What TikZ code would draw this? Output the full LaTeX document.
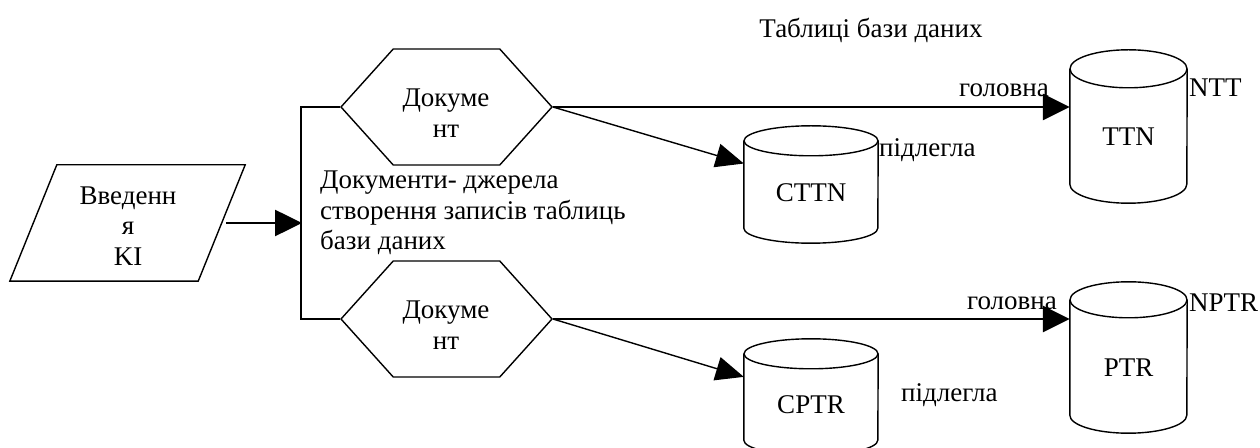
\documentclass[tikz,border=0pt]{standalone}
\usepackage{fontspec}
\setmainfont{Liberation Serif}
\usetikzlibrary{arrows.meta,shapes.symbols,calc}

% outline of a database cylinder drawn around a body node
\newcommand\dbcyl[3]{%
  \draw[line width=1.4pt] (#1.north) ellipse[x radius=#2, y radius=#3];
  \draw[line width=1.4pt] (#1.north west) -- (#1.south west)
    arc[start angle=180, end angle=360, x radius=#2, y radius=#3] -- (#1.north east);
}

\tikzset{
  txt/.style={inner sep=0pt, font=\fontsize{27}{30.5}\selectfont},
  thinarrow/.style={line width=1.4pt, -{Triangle[length=28pt,width=24pt]}},
  thickarrow/.style={line width=2.6pt, -{Triangle[length=27pt,width=26pt]}},
  docshape/.style={draw, line width=1.4pt, signal, signal to=east and west,
    signal pointer angle=96, minimum width=211pt, minimum height=116pt, inner sep=0pt},
  dbbody/.style={draw=none, inner sep=0pt},
  inputbox/.style={draw=none, minimum width=235pt, minimum height=116pt, inner sep=0pt}
}

\begin{document}
\begin{tikzpicture}[x=1pt, y=1pt]
  \path[use as bounding box, clip] (0,0) rectangle (1260,447);

  % input block (parallelogram)
  \node[inputbox] (vvod) at (127.5,224) {};
  \draw[line width=1.4pt] ($(vvod.north west)+(47,0)$) -- (vvod.north east)
    -- ($(vvod.south east)+(-47,0)$) -- (vvod.south west) -- cycle;
  \node[txt, align=center] (vvodtext) at (128,221) {Введенн\\я\\KI};
  \coordinate (vvodout) at ($(vvod.east)+(-19,0)$);

  % two source documents
  \node[docshape] (doc1) at (446.5,340) {};
  \node[txt, align=center] (doc1text) at (446,334) {Докуме\\нт};
  \node[docshape] (doc2) at (446.5,128) {};
  \node[txt, align=center] (doc2text) at (446,122) {Докуме\\нт};

  % bracket joining the documents
  \coordinate (brk) at (302,224);
  \draw[line width=1.4pt] (doc1.west) -- ++(-39,0) |- (doc2.west);
  \draw[thickarrow] (vvodout) -- (brk);

  \node[txt, anchor=west, align=left] (srcnote) at (320,234)
    {Документи- джерела\\створення записів таблиць\\бази даних};

  \node[txt] (title) at (871,417) {Таблиці бази даних};

  % database tables
  \node[dbbody, minimum width=134pt, minimum height=87pt] (cttn) at (811,262.5) {};
  \dbcyl{cttn}{67}{15}
  \node[txt] (cttntext) at (811,254) {CTTN};

  \node[dbbody, minimum width=134pt, minimum height=86pt] (cptr) at (811,50) {};
  \dbcyl{cptr}{67}{15}
  \node[txt] (cptrtext) at (811,42) {CPTR};

  \node[dbbody, minimum width=117pt, minimum height=115pt] (ttn) at (1128.5,320.5) {};
  \dbcyl{ttn}{58.5}{19}
  \node[txt] (ttntext) at (1128.5,310) {TTN};

  \node[dbbody, minimum width=117pt, minimum height=115pt] (ptr) at (1128.5,89.5) {};
  \dbcyl{ptr}{58.5}{18}
  \node[txt] (ptrtext) at (1128.5,79) {PTR};

  % links from documents to tables
  \draw[thickarrow] (doc1.east) -- (doc1.east -| ttn.west);
  \draw[thinarrow] (doc1.east) -- ($(cttn.north west)!0.26!(cttn.south west)$);
  \draw[thickarrow] (doc2.east) -- (doc2.east -| ptr.west);
  \draw[thinarrow] (doc2.east) -- ($(cptr.north west)!0.267!(cptr.south west)$);

  % link labels
  \node[txt] (main1) at (1004,357) {головна};
  \node[txt] (main2) at (1012,144) {головна};
  \node[txt, anchor=west] (sub1) at (879,297) {підлегла};
  \node[txt, anchor=west] (sub2) at (901,52) {підлегла};
  \node[txt, anchor=west] (ntt) at (1189,359) {NTT};
  \node[txt, anchor=west] (nptr) at (1189,144) {NPTR};
\end{tikzpicture}
\end{document}
